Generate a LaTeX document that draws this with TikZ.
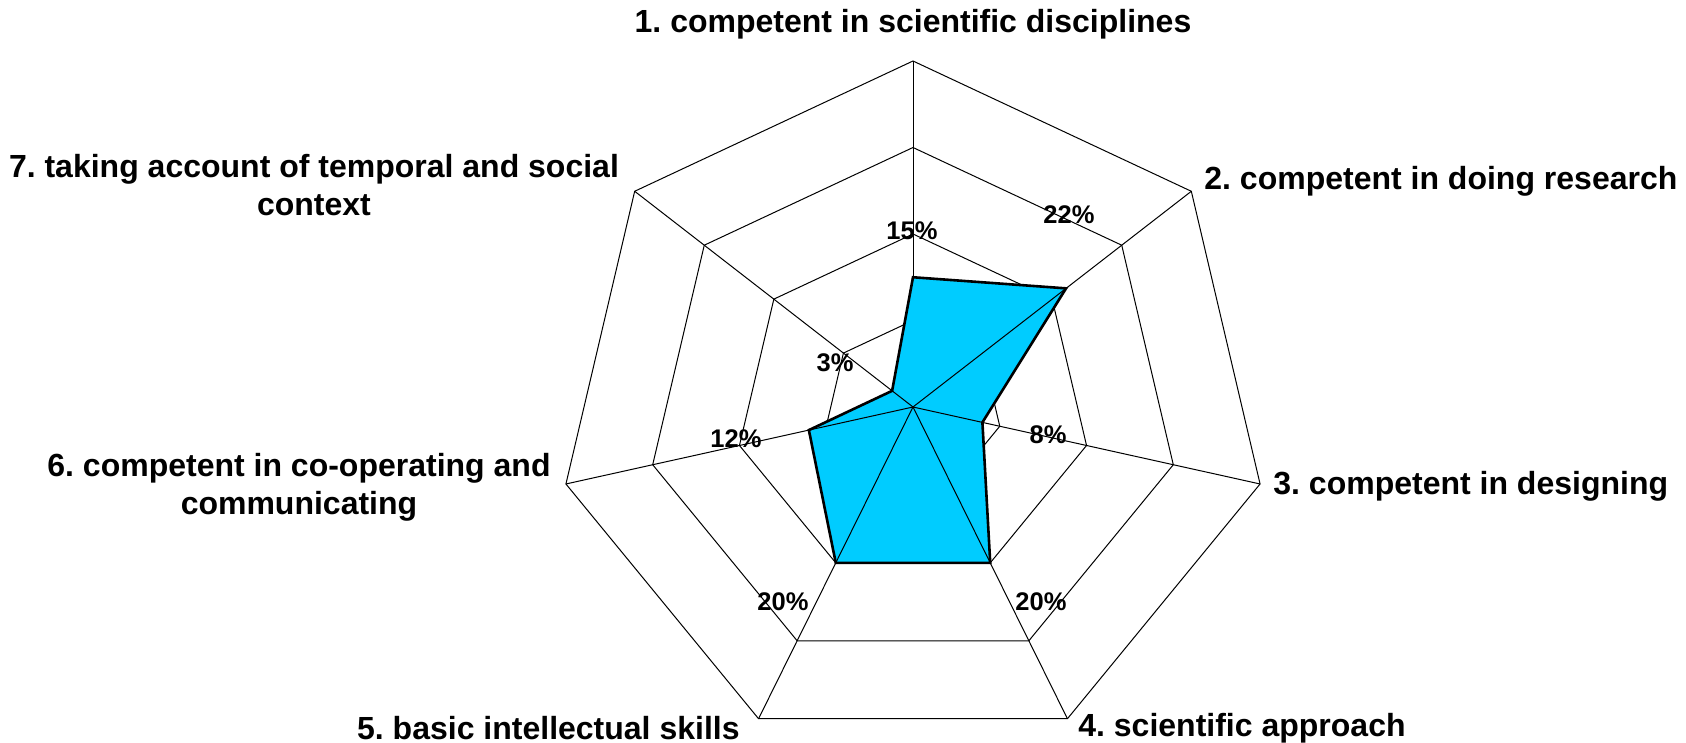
\documentclass[tikz,border=0pt]{standalone}
\usepackage{fontspec}
\setmainfont{Liberation Sans}
\definecolor{radarfill}{RGB}{0,204,255}
\frenchspacing

\begin{document}
\begin{tikzpicture}[x=0.5pt, y=0.5pt,
    grid/.style={draw=black, line width=0.5pt},
    series/.style={draw=black, line width=1.3pt, fill=radarfill, line join=miter},
    catlabel/.style={font=\fontsize{16}{19}\selectfont\bfseries, inner sep=0pt, align=center},
    vallabel/.style={font=\fontsize{12.75}{15}\selectfont\bfseries, inner sep=0pt}]
    \useasboundingbox (-913,-336) rectangle (773,407);
    \coordinate (O) at (0,0);
    \foreach \i in {1,...,7} {
      \pgfmathsetmacro{\ang}{90-(\i-1)*360/7}
      \foreach \r in {1,...,4}
        \coordinate (r\r-\i) at ({89*\r*cos(\ang)},{86.5*\r*sin(\ang)});
    }
    \foreach \r in {1,...,4}
      \draw[grid] (r\r-1) -- (r\r-2) -- (r\r-3) -- (r\r-4) -- (r\r-5) -- (r\r-6) -- (r\r-7) -- cycle;
    \foreach \i in {1,...,7}
      \draw[grid] (O) -- (r4-\i);
    \foreach \i/\v in {1/15,2/22,3/8,4/20,5/20,6/12,7/3} {
      \pgfmathsetmacro{\ang}{90-(\i-1)*360/7}
      \coordinate (p\i) at ({8.9*\v*cos(\ang)},{8.65*\v*sin(\ang)});
    }
    \draw[series] (p1) -- (p2) -- (p3) -- (p4) -- (p5) -- (p6) -- (p7) -- cycle;
    \foreach \i in {2,...,7}
      \draw[grid] (O) -- (p\i);
    \node[catlabel] (lab1) at (0,383) {1. competent in scientific disciplines};
    \node[catlabel, anchor=west] (lab2) at (291,226) {2. competent in doing research};
    \node[catlabel, anchor=west] (lab3) at (360,-79) {3. competent in designing};
    \node[catlabel, anchor=west] (lab4) at (165,-321) {4. scientific approach};
    \node[catlabel, anchor=east] (lab5) at (-173,-321) {5. basic intellectual skills};
    \node[catlabel] (lab6) at (-614,-80) {6. competent in co-operating and\\communicating};
    \node[catlabel] (lab7) at (-599,222) {7. taking account of temporal and social\\context};
    \node[vallabel] (val1) at (-1,176) {15\%};
    \node[vallabel] (val2) at (156,192) {22\%};
    \node[vallabel] (val3) at (135,-28) {8\%};
    \node[vallabel] (val4) at (128,-195) {20\%};
    \node[vallabel] (val5) at (-130,-195) {20\%};
    \node[vallabel] (val6) at (-177,-32) {12\%};
    \node[vallabel] (val7) at (-78,44) {3\%};
\end{tikzpicture}
\end{document}
